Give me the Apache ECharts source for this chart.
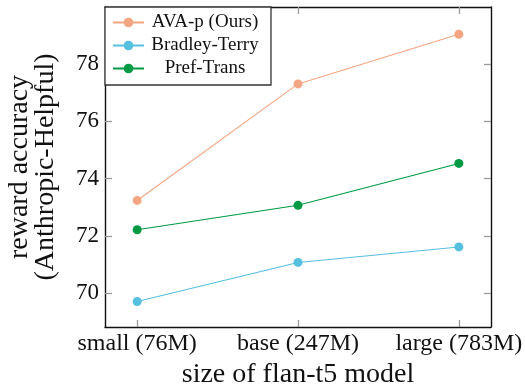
<!DOCTYPE html>
<html>
<head>
<meta charset="utf-8">
<script src="https://cdn.jsdelivr.net/npm/echarts@6/dist/echarts.min.js"></script>
<style>html,body{margin:0;padding:0;background:#fff}#c{width:525px;height:385px}</style>
</head>
<body>
<div id="c"></div>
<script>
const categories = ['small (76M)', 'base (247M)', 'large (783M)'];
const seriesNames = ['AVA-p (Ours)', 'Bradley-Terry', 'Pref-Trans'];
const avaP = [73.24, 77.3, 79.03];
const bradleyTerry = [69.72, 71.08, 71.62];
const prefTrans = [72.22, 73.07, 74.53];
const yTicks = [70, 72, 74, 76, 78];
const colors = ['#F4A582', '#55C0E0', '#009A44'];

const font = 'Liberation Serif, Times New Roman, serif';
const xIdx = categories.map((c, i) => i);
const frame = { show: true, onZero: false, lineStyle: { color: '#111', width: 1.4 } };
const tickStyle = { color: '#999', width: 1.3 };

const chart = echarts.init(document.getElementById('c'));
const mk = (name, vals, color) => ({
  name: name, type: 'line', data: xIdx.map(i => [i, vals[i]]),
  symbol: 'circle', symbolSize: 9, color: color,
  lineStyle: { width: 1.1, color: color }, itemStyle: { color: color },
  emphasis: { disabled: true }, animation: false
});
chart.setOption({
  animation: false,
  textStyle: { fontFamily: font },
  grid: { left: 105, right: 34, top: 7, bottom: 58, containLabel: false, outerBoundsMode: 'none' },
  legend: {
    orient: 'vertical', left: 105, top: 7,
    padding: [6, 10, 7, 7], itemGap: 4, itemWidth: 31, itemHeight: 12,
    borderColor: '#333', borderWidth: 1.3, backgroundColor: '#fff',
    data: seriesNames,
    formatter: n => '{a|' + n + '}',
    textStyle: { fontFamily: font, fontSize: 19, color: '#111',
      rich: { a: { width: 112, align: 'center', fontFamily: font, fontSize: 19, lineHeight: 20, color: '#111' } } }
  },
  xAxis: [{
    type: 'value', min: -0.2, max: 2.2, position: 'bottom',
    axisLine: frame, splitLine: { show: false },
    axisTick: { show: true, inside: true, length: 7, lineStyle: tickStyle, customValues: xIdx },
    axisLabel: { customValues: xIdx, formatter: v => categories[Math.round(v)], fontFamily: font, fontSize: 24, color: '#111', margin: 5 },
    name: 'size of flan-t5 model', nameLocation: 'middle', nameGap: 27,
    nameTextStyle: { fontFamily: font, fontSize: 28, color: '#111' }
  }, {
    type: 'value', min: -0.2, max: 2.2, position: 'top',
    axisLine: frame, splitLine: { show: false },
    axisTick: { show: true, inside: true, length: 7, lineStyle: tickStyle, customValues: xIdx },
    axisLabel: { show: false }
  }],
  yAxis: [{
    type: 'value', min: 68.83, max: 79.98, position: 'left',
    axisLine: frame, splitLine: { show: false },
    axisTick: { show: true, inside: true, length: 7, lineStyle: tickStyle, customValues: yTicks },
    axisLabel: { customValues: yTicks, fontFamily: font, fontSize: 23, color: '#111', margin: 6 },
    name: 'reward accuracy\n(Anthropic-Helpful)', nameLocation: 'middle', nameGap: 46, nameRotate: 90,
    nameTextStyle: { fontFamily: font, fontSize: 28, color: '#111', lineHeight: 26 }
  }, {
    type: 'value', min: 68.83, max: 79.98, position: 'right',
    axisLine: frame, splitLine: { show: false },
    axisTick: { show: true, inside: true, length: 7, lineStyle: tickStyle, customValues: yTicks },
    axisLabel: { show: false }
  }],
  series: [
    mk(seriesNames[0], avaP, colors[0]),
    mk(seriesNames[1], bradleyTerry, colors[1]),
    mk(seriesNames[2], prefTrans, colors[2])
  ]
});
</script>
</body>
</html>
